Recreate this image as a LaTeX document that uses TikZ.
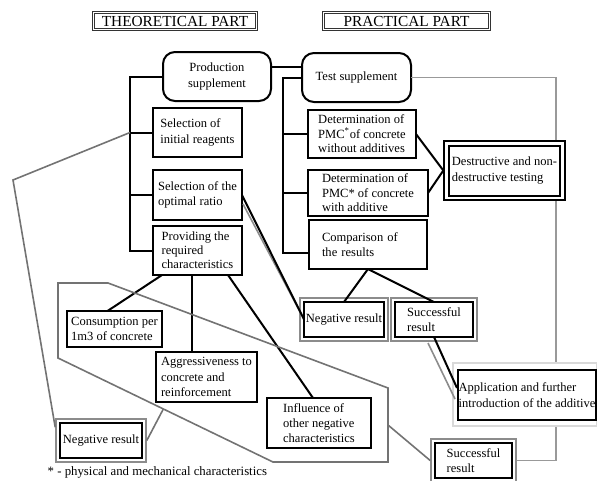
\documentclass[tikz,border=0pt]{standalone}
\usepackage{fontspec}
\setmainfont{Liberation Serif}
\usetikzlibrary{calc,fit}

\begin{document}
\begin{tikzpicture}[x=0.75pt,y=-0.75pt,
	bx/.style={draw,line width=1.5pt,outer sep=0pt,inner sep=0pt,align=left,fill=white,font=\fontsize{9.4}{11.5}\selectfont},
	rbx/.style={bx,rounded corners=9pt,align=center},
	hd/.style={draw=black!80,double,double distance=1pt,line width=0.7pt,inner sep=0pt,font=\fontsize{11.5}{13}\selectfont},
	gfr/.style={draw=black!45,line width=1.2pt,inner sep=3pt},
	ln/.style={line width=1.5pt},
	gln/.style={draw=black!45,line width=1.2pt}]
	\useasboundingbox (0,0) rectangle (597,480);
	% headings
	\node[hd,minimum width=122.5pt,minimum height=13pt] (theo) at (175,21) {THEORETICAL PART};
	\node[hd,minimum width=124.75pt,minimum height=13pt] (prac) at (406.5,21) {PRACTICAL PART};
	% theoretical part
	\node[rbx,minimum width=81pt,minimum height=36.75pt] (prod) at (217,76.5) {Production\\supplement};
	\node[bx,minimum width=66.75pt,minimum height=36.75pt] (sel1) at (197.5,132.5) {Selection of\\initial reagents};
	\node[bx,minimum width=66.75pt,minimum height=37.5pt] (sel2) at (197.5,195) {Selection of the\\optimal ratio};
	\node[bx,minimum width=66.75pt,minimum height=36.75pt,font=\fontsize{9.4}{10.5}\selectfont] (prov) at (197.5,250.5) {Providing the\\required\\characteristics};
	\node[bx,minimum width=71.25pt,minimum height=27pt] (cons) at (114.5,329) {Consumption per\\1m3 of concrete};
	\node[bx,minimum width=75.75pt,minimum height=37.5pt] (aggr) at (206.5,377) {Aggressiveness to\\concrete and\\reinforcement};
	\node[bx,minimum width=78pt,minimum height=37.5pt] (infl) at (319,423) {Influence of\\other negative\\characteristics};
	\node[bx,minimum width=61.5pt,minimum height=26.25pt] (negL) at (101,440.5) {Negative result};
	\node[gfr,fit=(negL)] (negLf) {};
	% practical part
	\node[rbx,minimum width=81.75pt,minimum height=36.75pt] (test) at (356.5,77.5) {Test supplement};
	\node[bx,minimum width=81pt,minimum height=36pt,font=\fontsize{9.4}{10.8}\selectfont] (det1) at (362,134) {Determination of\\PMC\textsuperscript{*}of concrete\\without additives};
	\node[bx,minimum width=90pt,minimum height=34.5pt,font=\fontsize{9.4}{10.8}\selectfont] (det2) at (368,193) {Determination of\\PMC* of concrete\\with additive};
	\node[bx,minimum width=88.5pt,minimum height=36.75pt,text width=69pt] (comp) at (368,244.5) {Comparison of\\the results};
	\node[bx,minimum width=60pt,minimum height=26.25pt] (negR) at (344,319.5) {Negative result};
	\node[gfr,fit=(negR)] (negRf) {};
	\node[bx,minimum width=58.5pt,minimum height=26.25pt] (sucR) at (434,319.5) {Successful\\result};
	\node[gfr,fit=(sucR)] (sucRf) {};
	\node[bx,minimum width=57.75pt,minimum height=26.25pt] (sucB) at (473.5,460.5) {Successful\\result};
	\node[gfr,fit=(sucB)] (sucBf) {};
	% long grey line on the right
	\draw[gln,black!40] (test.east) -- ++(145,0) |- (sucBf.east);
	\node[draw,line width=1pt,fill=white,minimum width=90.75pt,minimum height=44.25pt] (destf) at (504.5,170.5) {};
	\node[bx,minimum width=83.25pt,minimum height=37.5pt] (dest) at (504.5,170.5) {Destructive and non-\\destructive testing};
	\node[draw=black!15,line width=0.8pt,fill=white,minimum width=108pt,minimum height=47.25pt] (applf) at (525,394.5) {};
	\node[bx,minimum width=103.5pt,minimum height=37.5pt] (appl) at (527,395) {Application and further\\introduction of the additive};
	% spines
	\coordinate (lsp) at (130,0);
	\coordinate (rsp) at (283,0);
	\draw[ln] (prod.east) ++(0,-10) coordinate (pt) -- (pt -| test.west);
	\draw[ln] (prod.west) -| (lsp |- prov.west) -- (prov.west);
	\draw[ln] (lsp |- sel1.west) -- (sel1.west);
	\draw[ln] (lsp |- sel2.west) -- (sel2.west);
	\draw[ln] (test.west) -| ($(rsp |- comp.west)+(0,8)$) -- ($(comp.west)+(0,8)$);
	\draw[ln] (rsp |- det1.west) -- (det1.west);
	\draw[ln] (rsp |- det2.west) -- (det2.west);
	\draw[ln] (det1.east) -- (destf.west);
	\draw[ln] (det2.east) -- (destf.west);
	% results
	\draw[ln] (comp.south) -- (negR.north);
	\draw[ln] (comp.south) -- (sucR.north);
	\draw[gln] ($(sel2.east)+(1,9)$) -- ($(negR.west)+(-2,-4)$);
	\draw[ln] (sel2.east) -- (negR.west);
	\draw[gln] ($(sucR.south)+(-6,6)$) -- ($(appl.west)+(-3,4)$);
	\draw[ln] (sucR.south) -- ($(appl.west)+(-1,-7)$);
	% characteristics
	\draw[ln] ($(prov.south west)+(9,0)$) -- ($(cons.north)+(-7,0)$);
	\draw[ln] ($(prov.south)+(-5.5,0)$) -- ($(aggr.north)+(-14.5,0)$);
	\draw[ln] ($(prov.south east)+(-14,0)$) -- ($(infl.north)+(-6,0)$);
	% grey outline round the characteristics
	\coordinate (g1) at (58,283);
	\coordinate (g2) at (108,283);
	\coordinate (g3) at (388,388);
	\coordinate (g4) at (388,462);
	\coordinate (g5) at (273,462);
	\coordinate (g6) at (58,358);
	\draw[gln,black!55] (g1) -- (g2) -- (g3) -- (g4) -- (g5) -- (g6) -- cycle;
	\draw[gln,black!55] ($(g6)!0.49!(g5)$) -- (negLf.east);
	\draw[gln,black!55] ($(g3)!0.5!(g4)$) -- (sucBf.west);
	\draw[gln,black!55] (lsp |- sel1.west) -- (13,180) -- ($(negLf.north west)+(0,9)$);
	\node[anchor=west,font=\fontsize{9.6}{11}\selectfont] (note) at (43,472) {* - physical and mechanical characteristics};
\end{tikzpicture}
\end{document}
